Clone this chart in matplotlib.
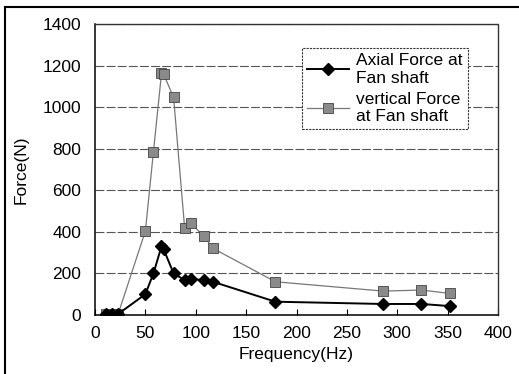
import matplotlib
import matplotlib.pyplot as plt
from matplotlib.lines import Line2D

matplotlib.rc('font', family=['Liberation Sans', 'DejaVu Sans'], size=12.5)

# values
freq = [11, 17, 23, 50, 58, 66, 68, 78, 89, 95, 108, 117, 179, 286, 324, 352]
axial = [5, 5, 5, 100, 200, 330, 318, 200, 168, 173, 168, 160, 64, 53, 53, 43]
vert = [5, 5, 5, 404, 785, 1162, 1160, 1047, 417, 441, 380, 321, 160, 115, 120, 104]
L = ['Axial Force at\nFan shaft', 'vertical Force\nat Fan shaft']

fig = plt.figure(figsize=(5.19, 3.74), dpi=100)
ax = fig.add_axes([95/519, 59/374, 403/519, 291/374])

ax.plot(freq, vert, '-', color='#777777', lw=0.9, marker='s', ms=6.5,
        mfc='#8a8a8a', mec='#444444', mew=0.6, label=L[1], zorder=3)
ax.plot(freq, axial, '-', color='black', lw=1.4, marker='D', ms=6.5,
        mfc='black', mec='black', label=L[0], zorder=4)

ax.set_xlim(0, 400)
ax.set_ylim(0, 1400)
ax.set_xticks(range(0, 401, 50))
ax.set_yticks(range(0, 1401, 200))
ax.tick_params(axis='x', direction='in', length=4, pad=8)
ax.tick_params(axis='y', length=0, pad=10)
ax.yaxis.grid(True, color='#555555', lw=0.8, linestyle=(0, (8, 2)))
ax.set_axisbelow(True)

for s in ['top', 'right']:
    ax.spines[s].set_linestyle((0, (2, 1)))
    ax.spines[s].set_color('#333333')
    ax.spines[s].set_linewidth(1.0)
for s in ['left', 'bottom']:
    ax.spines[s].set_color('black')
    ax.spines[s].set_linewidth(1.1)

ax.set_xlabel('Frequency(Hz)', labelpad=4)
ax.set_ylabel('Force(N)', labelpad=10)

h, l = ax.get_legend_handles_labels()
leg = ax.legend(h[::-1], l[::-1], loc='upper left', bbox_to_anchor=(0.514, 0.9175),
                borderaxespad=0, fancybox=False, handlelength=2.4,
                handletextpad=0.4, borderpad=0.3, labelspacing=0.35,
                framealpha=1, fontsize=12.5)
leg.get_frame().set_edgecolor('#333333')
leg.get_frame().set_linestyle((0, (2, 1)))
leg.get_frame().set_linewidth(0.8)

# outer frame of the scanned figure
fig.add_artist(Line2D([5/519, 1], [1 - 7/374, 1 - 7/374], color='black', lw=1.5))
fig.add_artist(Line2D([5/519, 5/519], [0, 1 - 7/374], color='black', lw=1.5))

plt.savefig('out.png')
